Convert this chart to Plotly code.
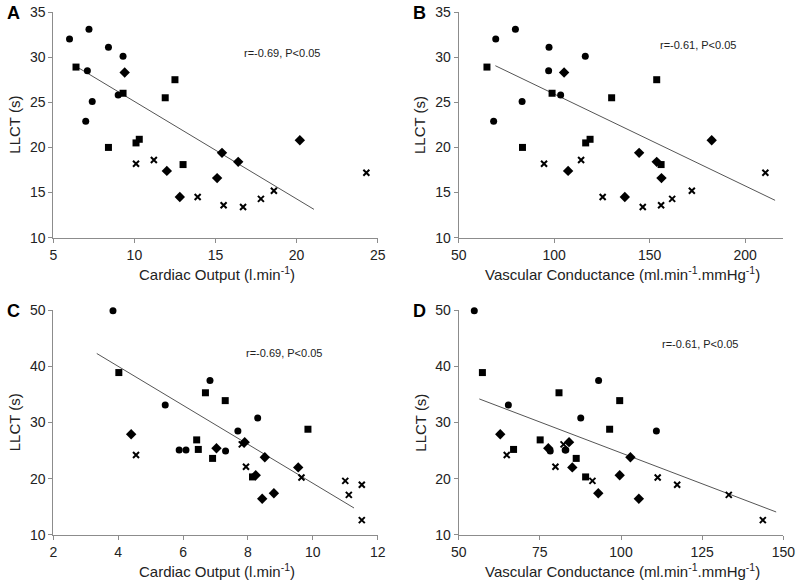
import plotly.graph_objects as go

# LLCT (s) values, shared by panels A/B (top) and C/D (bottom)
llct_top_circle = [32.0, 33.1, 31.1, 30.1, 28.5, 25.8, 25.1, 22.9]
llct_top_square = [28.9, 26.0, 25.5, 27.5, 20.0, 20.5, 20.9, 18.1]
llct_top_diamond = [28.3, 17.4, 14.5, 16.6, 19.4, 18.4, 20.8]
llct_top_cross = [18.2, 18.6, 14.5, 13.6, 13.4, 14.3, 15.2, 17.2]

# panel A: cardiac output (l/min)
co_top_circle = [6.0, 7.2, 8.4, 9.3, 7.1, 9.0, 7.4, 7.0]
co_top_square = [6.4, 9.3, 11.9, 12.5, 8.4, 10.1, 10.3, 13.0]
co_top_diamond = [9.4, 12.0, 12.8, 15.1, 15.4, 16.4, 20.2]
co_top_cross = [10.1, 11.2, 13.9, 15.5, 16.7, 17.8, 18.6, 24.3]

# panel B: vascular conductance
vc_top_circle = [69.4, 79.7, 97.3, 116.3, 97.1, 103.4, 83.2, 68.3]
vc_top_square = [64.8, 98.9, 130.1, 153.7, 83.4, 116.5, 118.8, 156.0]
vc_top_diamond = [105.2, 107.3, 137.0, 156.2, 144.5, 153.7, 182.5]
vc_top_cross = [94.7, 114.1, 125.4, 156.0, 146.4, 161.8, 172.1, 210.6]

llct_bot_circle = [49.9, 33.1, 25.1, 25.1, 37.5, 24.9, 28.5, 30.8]
llct_bot_square = [38.9, 35.3, 26.9, 25.2, 23.6, 33.9, 20.3, 28.8]
llct_bot_diamond = [27.9, 25.4, 26.5, 23.8, 20.6, 16.4, 17.4, 22.0]
llct_bot_cross = [24.2, 26.1, 22.1, 20.2, 19.6, 18.9, 17.1, 12.6]

# panel C
co_bot_circle = [3.84, 5.45, 5.88, 6.09, 6.83, 7.31, 7.69, 8.30]
co_bot_square = [4.02, 6.69, 6.42, 6.47, 6.91, 7.30, 8.14, 9.85]
co_bot_diamond = [4.40, 7.03, 7.90, 8.52, 8.24, 8.44, 8.80, 9.55]
co_bot_cross = [4.55, 7.81, 7.94, 9.65, 11.0, 11.51, 11.11, 11.51]

# panel D
vc_bot_circle = [54.8, 65.3, 83.0, 82.8, 93.1, 78.2, 110.9, 87.6]
vc_bot_square = [57.3, 80.9, 75.1, 66.9, 86.2, 99.6, 89.1, 96.5]
vc_bot_diamond = [62.8, 77.6, 84.0, 102.9, 99.6, 105.5, 93.0, 85.0]
vc_bot_cross = [64.8, 82.3, 79.8, 111.3, 91.2, 117.3, 133.2, 143.7]

# regression lines (end points as drawn)
fit_a_x, fit_a_y = [6.4, 21.07], [28.98, 13.14]
fit_b_x, fit_b_y = [69.2, 215.7], [29.05, 14.14]
fit_c_x, fit_c_y = [3.34, 11.27], [42.3, 14.76]
fit_d_x, fit_d_y = [56.35, 147.8], [34.2, 14.05]

panel_letters = ["A", "B", "C", "D"]
stats_text = ["r=-0.69, P<0.05", "r=-0.61, P<0.05", "r=-0.69, P<0.05", "r=-0.61, P<0.05"]
co_title = "Cardiac Output (l.min<sup>-1</sup>)"
vc_title = "Vascular Conductance (ml.min<sup>-1</sup>.mmHg<sup>-1</sup>)"

FONT = "Liberation Sans, Arial, sans-serif"
W, H = 800, 584

panels = [
    dict(xs=[co_top_circle, co_top_square, co_top_diamond, co_top_cross],
         ys=[llct_top_circle, llct_top_square, llct_top_diamond, llct_top_cross],
         fit=(fit_a_x, fit_a_y), xr=[5, 25], yr=[10, 35], dx=5, dy=5,
         px=(53.3, 377.7), py=(12, 237.7), xt=co_title),
    dict(xs=[vc_top_circle, vc_top_square, vc_top_diamond, vc_top_cross],
         ys=[llct_top_circle, llct_top_square, llct_top_diamond, llct_top_cross],
         fit=(fit_b_x, fit_b_y), xr=[50, 220], yr=[10, 35], dx=50, dy=5,
         px=(458.7, 783.3), py=(12, 237.7), xt=vc_title),
    dict(xs=[co_bot_circle, co_bot_square, co_bot_diamond, co_bot_cross],
         ys=[llct_bot_circle, llct_bot_square, llct_bot_diamond, llct_bot_cross],
         fit=(fit_c_x, fit_c_y), xr=[2, 12], yr=[10, 50], dx=2, dy=10,
         px=(53.3, 377.7), py=(310.3, 534.7), xt=co_title),
    dict(xs=[vc_bot_circle, vc_bot_square, vc_bot_diamond, vc_bot_cross],
         ys=[llct_bot_circle, llct_bot_square, llct_bot_diamond, llct_bot_cross],
         fit=(fit_d_x, fit_d_y), xr=[50, 150], yr=[10, 50], dx=25, dy=10,
         px=(458.7, 783.3), py=(310.3, 534.7), xt=vc_title),
]
# relative placement of the r/P text inside each panel
stat_pos = [(0.705, 0.818), (0.738, 0.854), (0.711, 0.811), (0.743, 0.848)]

markers = [
    dict(symbol="circle", size=7, color="black"),
    dict(symbol="square", size=7, color="black"),
    dict(symbol="diamond", size=8, color="black"),
    dict(symbol="x-thin", size=6, color="black", line=dict(width=2, color="black")),
]

fig = go.Figure()
layout = dict(width=W, height=H, margin=dict(l=0, r=0, t=0, b=0, autoexpand=False),
              paper_bgcolor="white", plot_bgcolor="white", showlegend=False,
              font=dict(family=FONT, color="#222"))
annotations = []

for i, p in enumerate(panels):
    n = "" if i == 0 else str(i + 1)
    xa, ya = "x" + n, "y" + n
    # regression line under the points
    fig.add_trace(go.Scatter(x=p["fit"][0], y=p["fit"][1], mode="lines",
                             line=dict(color="#555", width=1),
                             xaxis=xa, yaxis=ya, hoverinfo="skip"))
    for xs, ys, mk in zip(p["xs"], p["ys"], markers):
        fig.add_trace(go.Scatter(x=xs, y=ys, mode="markers", marker=mk,
                                 xaxis=xa, yaxis=ya, cliponaxis=False))

    axis_common = dict(showline=True, linecolor="#8c8c8c", linewidth=1,
                       ticks="outside", ticklen=4, tickcolor="#8c8c8c",
                       showgrid=False, zeroline=False, automargin=False,
                       tickfont=dict(size=14, color="#222", family=FONT))
    layout["xaxis" + n] = dict(axis_common, domain=[p["px"][0] / W, p["px"][1] / W],
                               range=p["xr"], dtick=p["dx"], tick0=p["xr"][0],
                               anchor=ya)
    layout["yaxis" + n] = dict(axis_common, domain=[1 - p["py"][1] / H, 1 - p["py"][0] / H],
                               range=p["yr"], dtick=p["dy"], tick0=p["yr"][0],
                               anchor=xa)

    x0, x1 = p["px"]
    y0, y1 = p["py"]
    # x axis title
    annotations.append(dict(text=p["xt"], x=(x0 + 163.4) / W, y=1 - (y1 + 35.5) / H,
                            xref="paper", yref="paper", showarrow=False,
                            xanchor="center", yanchor="middle",
                            font=dict(size=15, color="#222")))
    # y axis title
    annotations.append(dict(text="LLCT (s)", x=(x0 - 38.5) / W, y=1 - (y0 + y1) / 2 / H,
                            xref="paper", yref="paper", showarrow=False, textangle=-90,
                            xanchor="center", yanchor="middle",
                            font=dict(size=15, color="#222")))
    # panel letter
    annotations.append(dict(text=panel_letters[i], x=(x0 - 48) / W,
                            y=1 - (y0 + 1) / H, xref="paper", yref="paper",
                            showarrow=False, xanchor="left", yanchor="middle",
                            font=dict(size=18, color="black", weight="bold")))
    # statistics text
    sx, sy = stat_pos[i]
    annotations.append(dict(text=stats_text[i], x=sx, y=sy,
                            xref=xa + " domain", yref=ya + " domain", showarrow=False,
                            xanchor="center", yanchor="middle",
                            font=dict(size=11, color="#222")))

layout["annotations"] = annotations
fig.update_layout(**layout)
# page body has a default 8px margin; drop it so the figure sits at the window corner
fig.write_html("out.html", config={"displayModeBar": False},
               post_script="document.body.style.margin = '0';")
